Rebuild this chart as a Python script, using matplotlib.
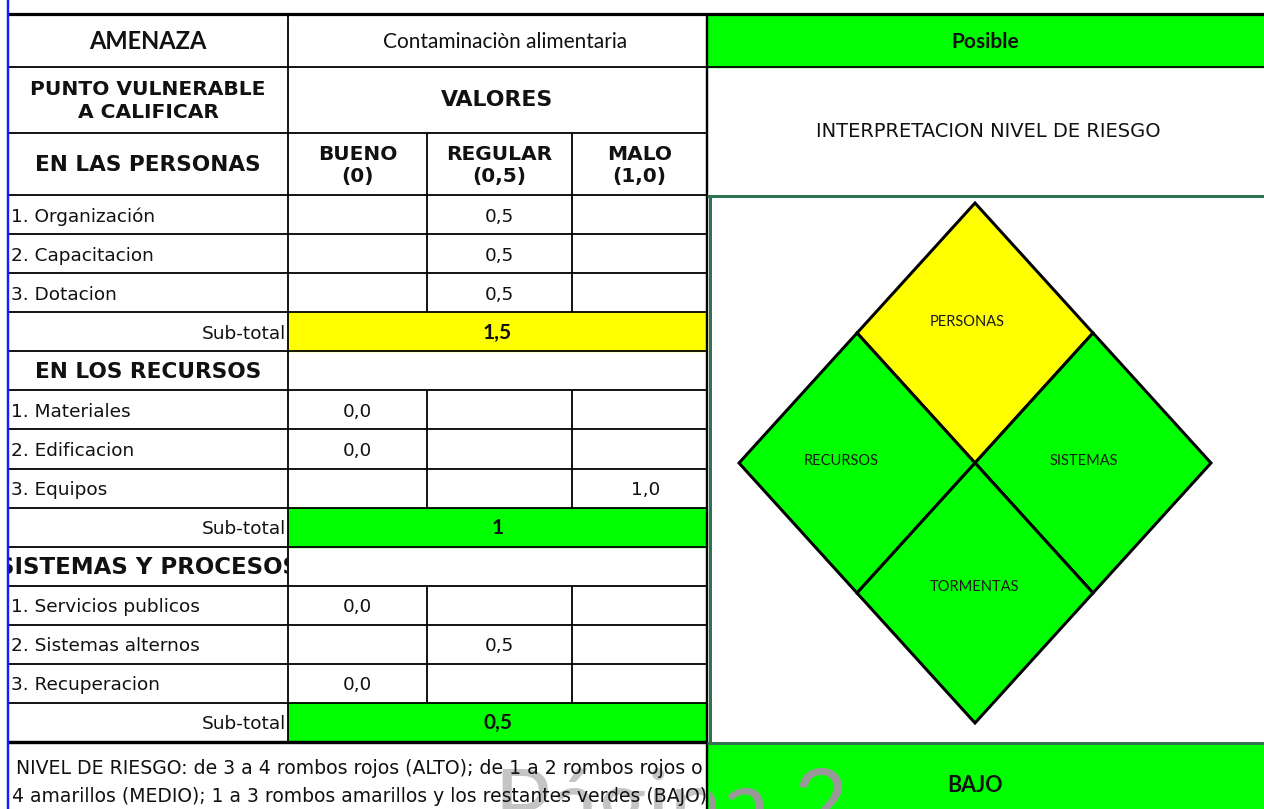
import matplotlib
matplotlib.use("Agg")
import matplotlib.pyplot as plt
from matplotlib.patches import Rectangle, Polygon
from matplotlib.transforms import Bbox, TransformedBbox
from matplotlib import font_manager

# ---------------- data ----------------
amenaza = "Contaminaciòn alimentaria"
calificacion = "Posible"
col_headers = ["BUENO\n(0)", "REGULAR\n(0,5)", "MALO\n(1,0)"]
col_values = [0.0, 0.5, 1.0]

sections = ["EN LAS PERSONAS", "EN LOS RECURSOS", "SISTEMAS Y PROCESOS"]
personas_items = ["1. Organización", "2. Capacitacion", "3. Dotacion"]
personas_vals = [0.5, 0.5, 0.5]
recursos_items = ["1. Materiales", "2. Edificacion", "3. Equipos"]
recursos_vals = [0.0, 0.0, 1.0]
sistemas_items = ["1. Servicios publicos", "2. Sistemas alternos", "3. Recuperacion"]
sistemas_vals = [0.0, 0.5, 0.0]
subtotals = ["1,5", "1", "0,5"]
subtotal_colors = ["#FFFF00", "#00FF00", "#00FF00"]

diamond_names = ["PERSONAS", "RECURSOS", "SISTEMAS", "TORMENTAS"]
diamond_colors = ["#FFFF00", "#00FF00", "#00FF00", "#00FF00"]
nivel_texto = ["NIVEL DE RIESGO: de 3 a 4 rombos rojos (ALTO); de 1 a 2 rombos rojos o",
               "4 amarillos (MEDIO); 1 a 3 rombos amarillos y los restantes verdes (BAJO)"]
nivel = "BAJO"
watermark = "Página 2"

# ---------------- setup ----------------
W, H = 1264, 809
fig = plt.figure(figsize=(W / 100, H / 100), dpi=100)
ax = fig.add_axes([0, 0, 1, 1])
ax.set_xlim(0, W)
ax.set_ylim(H, 0)
ax.axis("off")

names = {f.name for f in font_manager.fontManager.ttflist}
CAL = "Lato" if "Lato" in names else "DejaVu Sans"
PIX = "DejaVu Sans"
renderer = fig.canvas.get_renderer()

def fit(t, target_w):
    bb = t.get_window_extent(renderer)
    t.set_fontsize(t.get_fontsize() * target_w / bb.width)
    return t

def clipbox(x, y, w, h):
    return TransformedBbox(Bbox.from_extents(x, y, x + w, y + h), ax.transData)

PX = 0.72  # 1 px in points
TXT = "#111111"
GREEN_LINE = "#2f7350"

X0, X1, X2, X3, X4, XR = 8, 288, 427, 572, 707, W
Y0, Y1, Y2, Y3 = 14, 67, 133, 195
YB = 742
nrows = 14
rh = (YB - Y3) / nrows
rows_y = [Y3 + i * rh for i in range(nrows + 1)]
col_cx = [(X1 + X2) / 2, (X2 + X3) / 2, (X3 + X4) / 2]

def hline(y, xa, xb, c="black", lw=1.8, z=5):
    ax.plot([xa, xb], [y, y], color=c, lw=lw * PX, zorder=z, solid_capstyle="butt")

def vline(x, ya, yb, c="black", lw=1.8, z=5):
    ax.plot([x, x], [ya, yb], color=c, lw=lw * PX, zorder=z, solid_capstyle="butt")

# ---------------- fills ----------------
ax.add_patch(Rectangle((X4, Y0), XR - X4, Y1 - Y0, color="#00FF00", zorder=1))
ax.add_patch(Rectangle((X4, YB + 2), XR - X4, H - YB, color="#00FF00", zorder=1))

# ---------------- header texts ----------------
t = ax.text((X0 + X1) / 2, (Y0 + Y1) / 2 + 1, "AMENAZA", family=CAL, weight="bold",
            fontsize=16, ha="center", va="center", color=TXT, zorder=6)
fit(t, 118)
t = ax.text((X1 + X4) / 2 + 8, (Y0 + Y1) / 2 + 1, amenaza, family=CAL, fontsize=15,
            ha="center", va="center", color=TXT, zorder=6)
fit(t, 245)
ax.text((X4 + XR) / 2, (Y0 + Y1) / 2 + 1, calificacion, family=CAL, weight="bold",
        fontsize=15, ha="center", va="center", color=TXT, zorder=6)

t = ax.text((X0 + X1) / 2, (Y1 + Y2) / 2 + 1, "PUNTO VULNERABLE\nA CALIFICAR", family=PIX,
            weight="bold", fontsize=14.5, ha="center", va="center", color=TXT,
            linespacing=1.3, zorder=6)
fit(t, 236)
t = ax.text((X1 + X4) / 2, (Y1 + Y2) / 2, "VALORES", family=PIX, weight="bold",
            fontsize=15, ha="center", va="center", color=TXT, zorder=6)
fit(t, 112)
t = ax.text((X4 + XR) / 2 + 3, (Y1 + Y3) / 2, "INTERPRETACION NIVEL DE RIESGO", family=PIX,
            fontsize=13, ha="center", va="center", color=TXT, zorder=6)
fit(t, 345)
t = ax.text((X0 + X1) / 2, (Y2 + Y3) / 2 + 1, sections[0], family=PIX, weight="bold",
            fontsize=14.5, ha="center", va="center", color=TXT, zorder=6)
fit(t, 226)
for cx, lab in zip(col_cx, col_headers):
    ax.text(cx, (Y2 + Y3) / 2 + 1, lab, family=PIX, weight="bold", fontsize=14.5,
            ha="center", va="center", color=TXT, linespacing=1.2, zorder=6)

# ---------------- body ----------------
blocks = [(None, personas_items, personas_vals),
          (sections[1], recursos_items, recursos_vals),
          (sections[2], sistemas_items, sistemas_vals)]
section_widths = [None, 226, 302]

def fmt(v):
    return f"{v:.1f}".replace(".", ",")

r = 0
for bi, (sec, items, vals) in enumerate(blocks):
    if sec is not None:
        ya, yb = rows_y[r], rows_y[r + 1]
        t = ax.text((X0 + X1) / 2, (ya + yb) / 2 + 1, sec, family=PIX, weight="bold",
                    fontsize=14.5, ha="center", va="center", color=TXT, zorder=6)
        fit(t, section_widths[bi])
        t.set_clip_box(clipbox(X0 + 1, ya, X1 - X0 - 2, yb - ya))
        t.set_clip_on(True)
        r += 1
    start = rows_y[r] if sec is not None else Y2
    for it, v in zip(items, vals):
        ya, yb = rows_y[r], rows_y[r + 1]
        ax.text(X0 + 3, (ya + yb) / 2 + 2, it, family=PIX, fontsize=13.3,
                ha="left", va="center", color=TXT, zorder=6)
        ci = col_values.index(v)
        ax.text(col_cx[ci] + (6 if ci == 2 else 0), (ya + yb) / 2 + 2, fmt(v), family=PIX,
                fontsize=13.3, ha="center", va="center", color=TXT, zorder=6)
        r += 1
    end = rows_y[r]
    for x in (X2, X3):
        vline(x, start, end)
    ya, yb = rows_y[r], rows_y[r + 1]
    ax.add_patch(Rectangle((X1, ya), X4 - X1, yb - ya, color=subtotal_colors[bi], zorder=1))
    ax.text(X1 - 2, (ya + yb) / 2 + 2, "Sub-total", family=PIX, fontsize=13.3,
            ha="right", va="center", color=TXT, zorder=6)
    ax.text((X1 + X4) / 2, (ya + yb) / 2 + 1, subtotals[bi], family=CAL, weight="bold",
            fontsize=15, ha="center", va="center", color=TXT, zorder=6)
    r += 1

# ---------------- grid lines ----------------
hline(Y0, X0, XR, lw=3.2)
hline(Y1, X0, XR)
hline(Y2, X0, X4)
for y in rows_y[:-1]:
    hline(y, X0, X4)
hline(YB, X0, X4, lw=3.4)
vline(X1, Y0, YB)
vline(X4, Y0, H, lw=2.4)
vline(X0, 0, H, c="#1a1aff", lw=2.4, z=7)
# green panel border
hline(Y3 + 1, X4, XR, c=GREEN_LINE, lw=3, z=6)
vline(X4 + 2.5, Y3 + 1, YB + 1, c=GREEN_LINE, lw=3, z=6)
hline(YB + 1, X4, XR, c=GREEN_LINE, lw=3, z=6)

# ---------------- diamonds ----------------
cx0, cy0 = 975, 463
hw, hh = 118, 130
offsets = [(0, -1), (-1, 0), (1, 0), (0, 1)]
label_dy = [-11, -2, -2, -6]
label_dx = [-8, -16, -9, 0]
for (ox, oy), name, col, ldx, ldy in zip(offsets, diamond_names, diamond_colors, label_dx, label_dy):
    cx, cy = cx0 + ox * hw, cy0 + oy * hh
    pts = [(cx, cy - hh), (cx + hw, cy), (cx, cy + hh), (cx - hw, cy)]
    ax.add_patch(Polygon(pts, closed=True, facecolor=col, edgecolor="black",
                         lw=3 * PX, joinstyle="miter", zorder=3))
    ax.text(cx + ldx, cy + ldy, name, family=CAL, fontsize=10.5, ha="center",
            va="center", color="#1a1a1a", zorder=6)

# ---------------- bottom ----------------
for i, line in enumerate(nivel_texto):
    t = ax.text((X0 + X4) / 2 + 2, YB + 26 + i * 29, line, family=PIX, fontsize=12,
                ha="center", va="center", color=TXT, zorder=6)
    fit(t, 686 if i == 0 else 690)
ax.text((X4 + XR) / 2 - 10, 786, nivel, family=CAL, weight="bold", fontsize=15.5,
        ha="center", va="center", color=TXT, zorder=6)

# watermark (mostly below the bottom edge)
for (cx_, cy_, cw_, ch_), col in [((X0 + 2, YB + 3, X4 - X0 - 4, H), "#c4c4c4"),
                                  ((X4 + 2, YB + 3, XR - X4, H), "#999999")]:
    wt = ax.text(848, 836, watermark, family=CAL, fontsize=68, ha="right",
                 va="baseline", color=col, zorder=4)
    wt.set_clip_box(clipbox(cx_, cy_, cw_, ch_))
    wt.set_clip_on(True)

fig.savefig("out.png", dpi=100)
